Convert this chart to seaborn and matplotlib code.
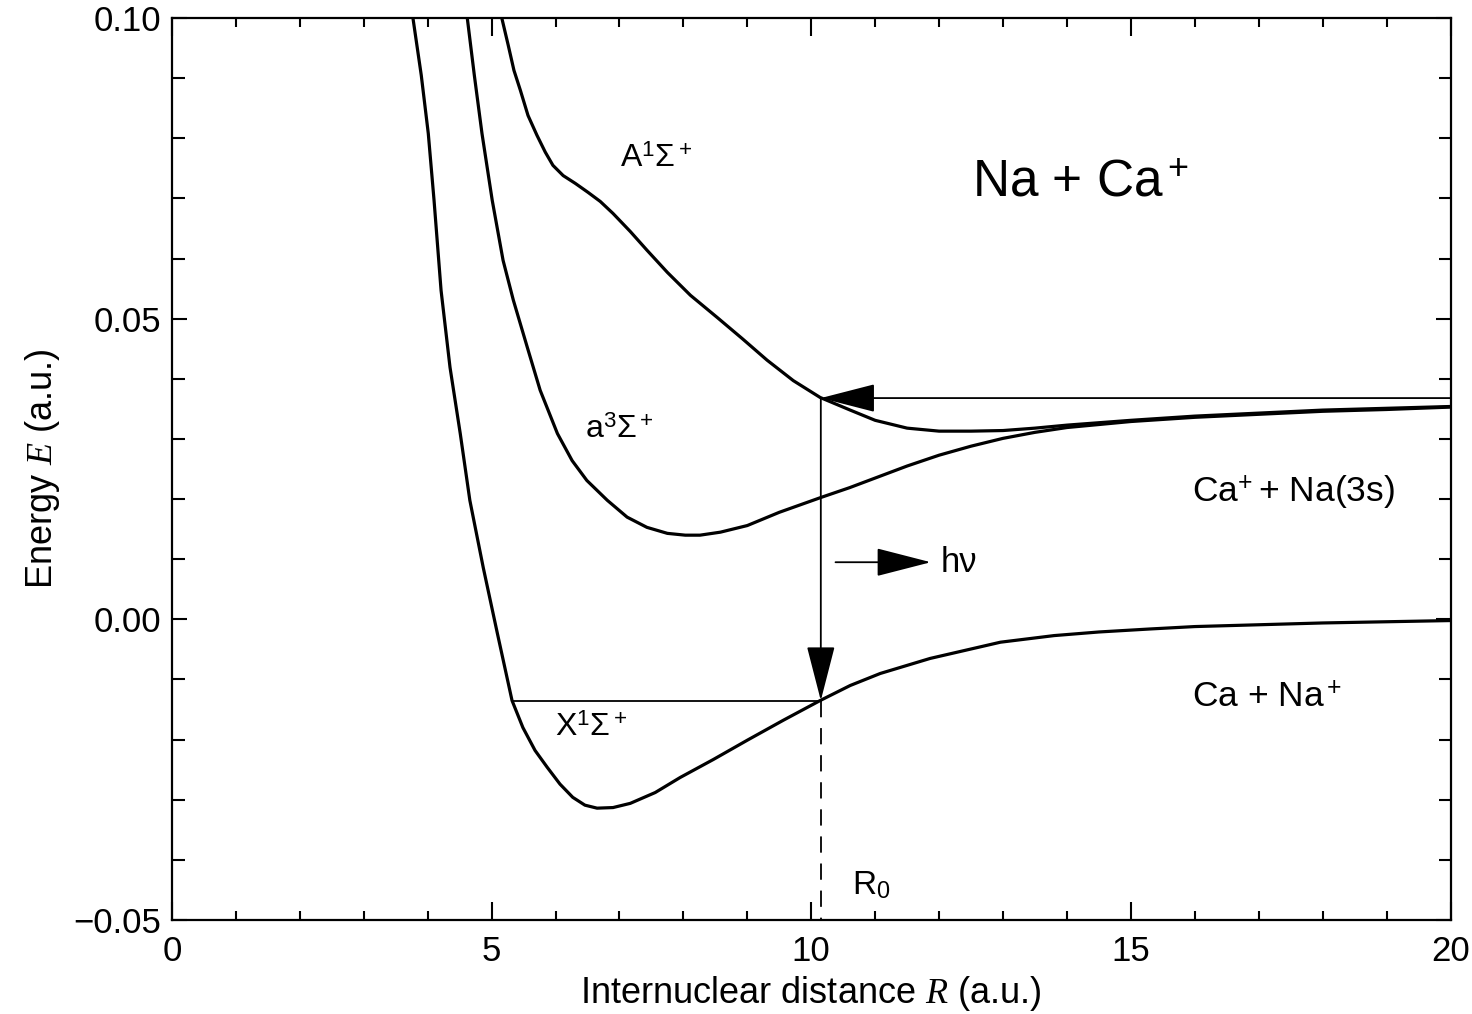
import numpy as np
import matplotlib
matplotlib.use("Agg")
import matplotlib.pyplot as plt
import seaborn as sns
from matplotlib.ticker import MultipleLocator, FuncFormatter

# potential curves (R in a.u., E in a.u.)
R_X = [3.77, 3.90, 4.01, 4.10, 4.21, 4.35, 4.51, 4.66, 4.87, 5.09, 5.32, 5.49, 5.68,
       5.87, 6.07, 6.27, 6.46, 6.65, 6.90, 7.17, 7.56, 7.95, 8.47, 9.0, 9.56, 10.14,
       10.61, 11.08, 11.86, 12.96, 13.8, 14.5, 15.3, 16.0, 17.0, 18.0, 19.0, 20.0]
E_X = [0.100, 0.0905, 0.0808, 0.0697, 0.0547, 0.0419, 0.0309, 0.0198, 0.0086, -0.0023,
       -0.0135, -0.0180, -0.0218, -0.0246, -0.0274, -0.0296, -0.0309, -0.0314, -0.0313,
       -0.0306, -0.0288, -0.0263, -0.0233, -0.0201, -0.0168, -0.0135, -0.0110, -0.0090,
       -0.0065, -0.0038, -0.0027, -0.0021, -0.0016, -0.0012, -0.0009, -0.0006, -0.0004,
       -0.0002]

R_a = [4.62, 4.73, 4.85, 5.01, 5.18, 5.34, 5.56, 5.76, 6.03, 6.26, 6.49, 6.81, 7.12,
       7.43, 7.75, 8.03, 8.26, 8.58, 9.0, 9.5, 10.16, 10.6, 11.0, 11.5, 12.0, 12.5,
       13.0, 13.5, 14.0, 15.0, 16.0, 17.0, 18.0, 19.0, 20.0]
E_a = [0.100, 0.0905, 0.0808, 0.0697, 0.0597, 0.0531, 0.0452, 0.0381, 0.0309, 0.0264,
       0.0231, 0.0198, 0.0170, 0.0153, 0.0143, 0.0140, 0.0140, 0.0145, 0.0156, 0.0178,
       0.0203, 0.0219, 0.0235, 0.0255, 0.0273, 0.0288, 0.0301, 0.0311, 0.0319, 0.0329,
       0.0336, 0.0341, 0.0346, 0.0349, 0.0353]

R_A = [5.16, 5.26, 5.35, 5.45, 5.57, 5.71, 5.84, 5.96, 6.12, 6.31, 6.51, 6.70, 6.90,
       7.17, 7.43, 7.75, 8.11, 8.53, 8.92, 9.31, 9.72, 10.14, 10.61, 11.0, 11.5, 12.0,
       12.5, 13.0, 13.5, 14.0, 15.0, 16.0, 17.0, 18.0, 19.0, 20.0]
E_A = [0.100, 0.0955, 0.0913, 0.0880, 0.0838, 0.0805, 0.0777, 0.0755, 0.0738, 0.0725,
       0.0710, 0.0695, 0.0675, 0.0645, 0.0614, 0.0577, 0.0539, 0.0502, 0.0467, 0.0431,
       0.0397, 0.0369, 0.0348, 0.0331, 0.0318, 0.0313, 0.0313, 0.0314, 0.0318, 0.0323,
       0.0331, 0.0338, 0.0343, 0.0348, 0.0351, 0.0354]

# transition markers
R0 = 10.15
E_upper = 0.0368
E_lower = -0.0135
R_wall = 5.32
hv_R = [10.38, 11.87]
hv_E = 0.0095

x_ticks = [0, 5, 10, 15, 20]
y_ticks = [-0.05, 0.00, 0.05, 0.10]

sns.set_theme(style="ticks")
plt.rcParams["font.family"] = ["Liberation Sans", "DejaVu Sans"]
plt.rcParams["mathtext.fontset"] = "custom"
plt.rcParams["mathtext.rm"] = "Liberation Sans"
plt.rcParams["mathtext.it"] = "Liberation Serif:italic"
plt.rcParams["mathtext.bf"] = "Liberation Sans:bold"
plt.rcParams["text.color"] = "black"
plt.rcParams["axes.labelcolor"] = "black"

fig = plt.figure(figsize=(14.72, 10.14), dpi=100)
ax = fig.add_axes([0.1168, 0.0927, 0.9854 - 0.1168, 0.9822 - 0.0927])

for R, E in [(R_X, E_X), (R_a, E_a), (R_A, E_A)]:
    sns.lineplot(x=R, y=E, ax=ax, color="black", lw=2.3, sort=False, estimator=None)

# ground level line and dashed drop to the axis
ax.plot([R_wall, R0], [E_lower, E_lower], color="black", lw=1.3)
ax.plot([R0, R0], [E_lower, -0.05], color="black", lw=1.3, dashes=(9, 6))

arrow_kw = dict(arrowstyle="-|>,head_length=1.75,head_width=0.45", color="black",
                lw=1.3, mutation_scale=20, shrinkA=0, shrinkB=0)
ax.annotate("", xy=(R0, E_upper), xytext=(20, E_upper), arrowprops=arrow_kw)
ax.annotate("", xy=(R0, E_lower), xytext=(R0, E_upper), arrowprops=arrow_kw)
ax.annotate("", xy=(hv_R[1], hv_E), xytext=(hv_R[0], hv_E), arrowprops=arrow_kw)

ax.text(12.02, hv_E, "h\u03bd", fontsize=25, va="center", ha="left")
ax.text(7.01, 0.0765, r"A$^1\Sigma^+$", fontsize=23, va="center", ha="left")
ax.text(6.46, 0.0315, r"a$^3\Sigma^+$", fontsize=23, va="center", ha="left")
ax.text(5.99, -0.0181, r"X$^1\Sigma^+$", fontsize=23, va="center", ha="left")
ax.text(12.52, 0.0725, r"Na + Ca$^+$", fontsize=37, va="center", ha="left")
ax.text(15.96, 0.0210, r"Ca$^{+}\!$ + Na(3s)", fontsize=25.5, va="center", ha="left")
ax.text(15.96, -0.0130, r"Ca + Na$^+$", fontsize=25.5, va="center", ha="left")
ax.text(10.64, -0.0442, r"R$_0$", fontsize=24, va="center", ha="left")

ax.set_xlim(0, 20)
ax.set_ylim(-0.05, 0.10)
ax.set_xticks(x_ticks)
ax.set_yticks(y_ticks)
ax.xaxis.set_minor_locator(MultipleLocator(1))
ax.yaxis.set_minor_locator(MultipleLocator(0.01))
ax.yaxis.set_major_formatter(FuncFormatter(lambda v, _: f"{v:.2f}".replace("-", "\u2212")))
ax.tick_params(which="both", direction="in", top=True, right=True, width=1.5,
               labelsize=25, colors="black")
ax.tick_params(axis="x", which="major", length=13, pad=11)
ax.tick_params(axis="x", which="minor", length=6.5)
ax.tick_params(axis="y", which="major", length=11, pad=8)
ax.tick_params(axis="y", which="minor", length=9)
for sp in ax.spines.values():
    sp.set_linewidth(1.6)
    sp.set_color("black")

ax.set_xlabel(r"Internuclear distance $\mathbf{\mathit{R}}$ (a.u.)", fontsize=26, labelpad=4)
ax.set_ylabel(r"Energy $E$ (a.u.)", fontsize=26, labelpad=8)

fig.savefig("out.png", dpi=100, facecolor="white")
